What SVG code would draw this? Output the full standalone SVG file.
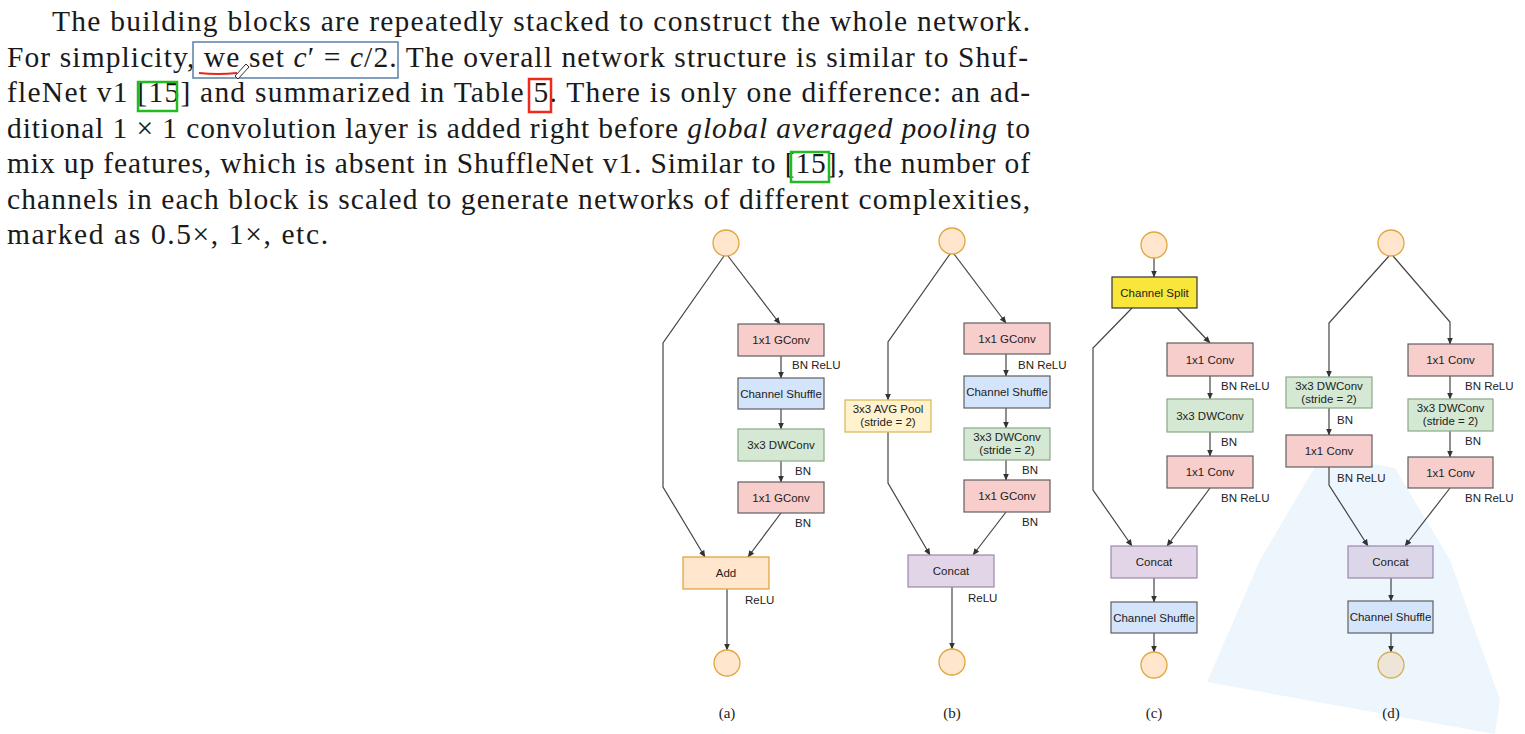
<svg xmlns="http://www.w3.org/2000/svg" width="1525" height="734" viewBox="0 0 1525 734">
<style>
.para{font-family:"Liberation Serif","DejaVu Serif",serif;font-size:29.5px;fill:#1a1a1a}
.it{font-style:italic}
.nd{font-family:"Liberation Sans",Arial,sans-serif;font-size:11.5px;fill:#222;text-anchor:middle}
.lb{font-family:"Liberation Sans",Arial,sans-serif;font-size:11.5px;fill:#222}
.cap{font-family:"Liberation Serif","DejaVu Serif",serif;font-size:15px;fill:#222;text-anchor:middle}
.io{fill:#ffe6cc;stroke:#e0a640;stroke-width:1.3}
.red{fill:#f8cecc;stroke:#5f5f5f;stroke-width:1.2}
.blue{fill:#d3e4fb;stroke:#5f5f5f;stroke-width:1.2}
.green{fill:#d5e8d4;stroke:#8aa888;stroke-width:1.2}
.purple{fill:#e1d5e7;stroke:#9a88aa;stroke-width:1.2}
.add{fill:#ffe6cc;stroke:#e0a640;stroke-width:1.3}
.pool{fill:#fff2cc;stroke:#d6b656;stroke-width:1.2}
.split{fill:#f9e63a;stroke:#333;stroke-width:1.2}
.cn path,.cn polyline{fill:none;stroke:#444;stroke-width:1.2}
</style>
<defs>
<marker id="ah" markerWidth="7" markerHeight="7" refX="6.5" refY="3.5" orient="auto" markerUnits="userSpaceOnUse">
<path d="M0,0.5 L7,3.5 L0,6.5 z" fill="#333"/>
</marker>
</defs>
<rect width="1525" height="734" fill="#fff"/>

<!-- light overlay (screen glare) -->
<polygon points="1322,455 1395,468 1450,560 1500,700 1495,734 1207,682 1260,560" fill="#edf6fc"/>

<!-- paragraph -->
<g id="paragraph">
<text class="para" x="52" y="31" textLength="978" lengthAdjust="spacing">The building blocks are repeatedly stacked to construct the whole network.</text>
<text class="para" x="7" y="67" textLength="1021" lengthAdjust="spacing">For simplicity, we set <tspan class="it">c</tspan>′ = <tspan class="it">c</tspan>/2. The overall network structure is similar to Shuf-</text>
<text class="para" x="7" y="102" textLength="1023" lengthAdjust="spacing">fleNet v1 [15] and summarized in Table 5. There is only one difference: an ad-</text>
<text class="para" x="7" y="138" textLength="1023" lengthAdjust="spacing">ditional 1 × 1 convolution layer is added right before <tspan class="it">global averaged pooling</tspan> to</text>
<text class="para" x="7" y="173" textLength="1023" lengthAdjust="spacing">mix up features, which is absent in ShuffleNet v1. Similar to [15], the number of</text>
<text class="para" x="7" y="209" textLength="1023" lengthAdjust="spacing">channels in each block is scaled to generate networks of different complexities,</text>
<text class="para" x="7" y="244" textLength="321" lengthAdjust="spacing">marked as 0.5×, 1×, etc.</text>
<rect x="193" y="42" width="205" height="36" fill="none" stroke="#5a7fa8" stroke-width="1.5"/>
<rect x="138" y="82" width="39" height="29" fill="none" stroke="#22bb22" stroke-width="2.5"/>
<rect x="529" y="79" width="22" height="33" fill="none" stroke="#ee2a1a" stroke-width="2.5"/>
<rect x="791" y="152" width="38" height="30" fill="none" stroke="#22bb22" stroke-width="2.5"/>
<path d="M199,73 Q218,75 237,73" fill="none" stroke="#e02a20" stroke-width="2"/>
<path d="M235,76 L246,64 L249,67 L238,79 z" fill="#fff" stroke="#333" stroke-width="1"/>
</g>

<!-- connectors -->
<g id="connectors" class="cn">
<!-- (a) -->
<polyline points="724,256 663,343 663,487 705,557" marker-end="url(#ah)"/>
<path d="M728,256 L780,324" marker-end="url(#ah)"/>
<path d="M781,356 L781,378" marker-end="url(#ah)"/>
<path d="M781,409 L781,429" marker-end="url(#ah)"/>
<path d="M781,461 L781,482" marker-end="url(#ah)"/>
<path d="M781,513 L748,557" marker-end="url(#ah)"/>
<path d="M727,589 L727,650" marker-end="url(#ah)"/>
<!-- (b) -->
<polyline points="950,254 888,342 888,400" marker-end="url(#ah)"/>
<polyline points="888,432 888,483 930,555" marker-end="url(#ah)"/>
<path d="M954,254 L1006,323" marker-end="url(#ah)"/>
<path d="M1006,354 L1006,376" marker-end="url(#ah)"/>
<path d="M1006,408 L1006,428" marker-end="url(#ah)"/>
<path d="M1006,460 L1006,480" marker-end="url(#ah)"/>
<path d="M1006,512 L973,555" marker-end="url(#ah)"/>
<path d="M952,587 L952,649" marker-end="url(#ah)"/>
<!-- (c) -->
<path d="M1154,258 L1154,277" marker-end="url(#ah)"/>
<polyline points="1132,308 1093,348 1093,490 1132,546" marker-end="url(#ah)"/>
<path d="M1177,308 L1210,343" marker-end="url(#ah)"/>
<path d="M1210,376 L1210,399" marker-end="url(#ah)"/>
<path d="M1210,432 L1210,456" marker-end="url(#ah)"/>
<path d="M1210,488 L1167,546" marker-end="url(#ah)"/>
<path d="M1154,578 L1154,602" marker-end="url(#ah)"/>
<path d="M1154,633 L1154,652" marker-end="url(#ah)"/>
<!-- (d) -->
<polyline points="1389,256 1329,323 1329,377" marker-end="url(#ah)"/>
<path d="M1329,408 L1329,435" marker-end="url(#ah)"/>
<polyline points="1329,467 1329,485 1368,546" marker-end="url(#ah)"/>
<polyline points="1393,256 1450,322 1450,344" marker-end="url(#ah)"/>
<path d="M1450,376 L1450,399" marker-end="url(#ah)"/>
<path d="M1450,431 L1450,457" marker-end="url(#ah)"/>
<path d="M1450,488 L1405,546" marker-end="url(#ah)"/>
<path d="M1391,578 L1391,601" marker-end="url(#ah)"/>
<path d="M1391,633 L1391,652" marker-end="url(#ah)"/>
</g>

<!-- diagram (a) -->
<g id="a-in"><circle class="io" cx="726" cy="243" r="13"/></g>
<g id="a-gconv1"><rect class="red" x="738" y="324" width="86" height="32"/><text class="nd" x="781" y="344">1x1 GConv</text></g>
<g id="a-shuffle"><rect class="blue" x="738" y="378" width="86" height="31"/><text class="nd" x="781" y="397.5">Channel Shuffle</text></g>
<g id="a-dwconv"><rect class="green" x="738" y="429" width="86" height="32"/><text class="nd" x="781" y="449">3x3 DWConv</text></g>
<g id="a-gconv2"><rect class="red" x="738" y="482" width="86" height="31"/><text class="nd" x="781" y="501.5">1x1 GConv</text></g>
<g id="a-add"><rect class="add" x="683" y="557" width="86" height="32"/><text class="nd" x="726" y="577">Add</text></g>
<g id="a-out"><circle class="io" cx="727" cy="663" r="13"/></g>
<g id="a-labels">
<text class="lb" x="792" y="369">BN ReLU</text>
<text class="lb" x="795" y="475">BN</text>
<text class="lb" x="795" y="527">BN</text>
<text class="lb" x="745" y="604">ReLU</text>
<text class="cap" x="727" y="718">(a)</text>
</g>

<!-- diagram (b) -->
<g id="b-in"><circle class="io" cx="952" cy="241" r="13"/></g>
<g id="b-pool"><rect class="pool" x="845" y="400" width="86" height="32"/><text class="nd" x="888" y="413">3x3 AVG Pool</text><text class="nd" x="888" y="426">(stride = 2)</text></g>
<g id="b-gconv1"><rect class="red" x="964" y="323" width="86" height="31"/><text class="nd" x="1007" y="342.5">1x1 GConv</text></g>
<g id="b-shuffle"><rect class="blue" x="964" y="376" width="86" height="32"/><text class="nd" x="1007" y="396">Channel Shuffle</text></g>
<g id="b-dwconv"><rect class="green" x="964" y="428" width="86" height="32"/><text class="nd" x="1007" y="441">3x3 DWConv</text><text class="nd" x="1007" y="454">(stride = 2)</text></g>
<g id="b-gconv2"><rect class="red" x="964" y="480" width="86" height="32"/><text class="nd" x="1007" y="500">1x1 GConv</text></g>
<g id="b-concat"><rect class="purple" x="908" y="555" width="86" height="32"/><text class="nd" x="951" y="575">Concat</text></g>
<g id="b-out"><circle class="io" cx="952" cy="662" r="13"/></g>
<g id="b-labels">
<text class="lb" x="1018" y="369">BN ReLU</text>
<text class="lb" x="1022" y="474">BN</text>
<text class="lb" x="1022" y="526">BN</text>
<text class="lb" x="968" y="602">ReLU</text>
<text class="cap" x="952" y="718">(b)</text>
</g>

<!-- diagram (c) -->
<g id="c-in"><circle class="io" cx="1154" cy="245" r="13"/></g>
<g id="c-split"><rect class="split" x="1112" y="277" width="85" height="31"/><text class="nd" x="1154.5" y="296.5">Channel Split</text></g>
<g id="c-conv1"><rect class="red" x="1167" y="343" width="86" height="33"/><text class="nd" x="1210" y="363.5">1x1 Conv</text></g>
<g id="c-dwconv"><rect class="green" x="1167" y="399" width="86" height="33"/><text class="nd" x="1210" y="419.5">3x3 DWConv</text></g>
<g id="c-conv2"><rect class="red" x="1167" y="456" width="86" height="32"/><text class="nd" x="1210" y="476">1x1 Conv</text></g>
<g id="c-concat"><rect class="purple" x="1111" y="546" width="86" height="32"/><text class="nd" x="1154" y="566">Concat</text></g>
<g id="c-shuffle"><rect class="blue" x="1111" y="602" width="86" height="31"/><text class="nd" x="1154" y="621.5">Channel Shuffle</text></g>
<g id="c-out"><circle class="io" cx="1154" cy="665" r="13"/></g>
<g id="c-labels">
<text class="lb" x="1221" y="390">BN ReLU</text>
<text class="lb" x="1221" y="446">BN</text>
<text class="lb" x="1221" y="502">BN ReLU</text>
<text class="cap" x="1154" y="718">(c)</text>
</g>

<!-- diagram (d) -->
<g id="d-in"><circle class="io" cx="1391" cy="243" r="13"/></g>
<g id="d-ldwconv"><rect class="green" x="1286" y="377" width="86" height="31"/><text class="nd" x="1329" y="390">3x3 DWConv</text><text class="nd" x="1329" y="403">(stride = 2)</text></g>
<g id="d-lconv"><rect class="red" x="1286" y="435" width="86" height="32"/><text class="nd" x="1329" y="455">1x1 Conv</text></g>
<g id="d-rconv1"><rect class="red" x="1408" y="344" width="85" height="32"/><text class="nd" x="1450.5" y="364">1x1 Conv</text></g>
<g id="d-rdwconv"><rect class="green" x="1408" y="399" width="85" height="32"/><text class="nd" x="1450.5" y="412">3x3 DWConv</text><text class="nd" x="1450.5" y="425">(stride = 2)</text></g>
<g id="d-rconv2"><rect class="red" x="1408" y="457" width="85" height="31"/><text class="nd" x="1450.5" y="476.5">1x1 Conv</text></g>
<g id="d-concat"><rect class="purple" x="1348" y="546" width="85" height="32" style="fill:#dcd6e9"/><text class="nd" x="1390.5" y="566">Concat</text></g>
<g id="d-shuffle"><rect class="blue" x="1348" y="601" width="85" height="32"/><text class="nd" x="1390.5" y="621">Channel Shuffle</text></g>
<g id="d-out"><circle class="io" cx="1391" cy="665" r="13" style="fill:#ece5d8;stroke:#d2b05a"/></g>
<g id="d-labels">
<text class="lb" x="1337" y="424">BN</text>
<text class="lb" x="1337" y="482">BN ReLU</text>
<text class="lb" x="1465" y="390">BN ReLU</text>
<text class="lb" x="1465" y="445">BN</text>
<text class="lb" x="1465" y="502">BN ReLU</text>
<text class="cap" x="1391" y="718">(d)</text>
</g>
</svg>
